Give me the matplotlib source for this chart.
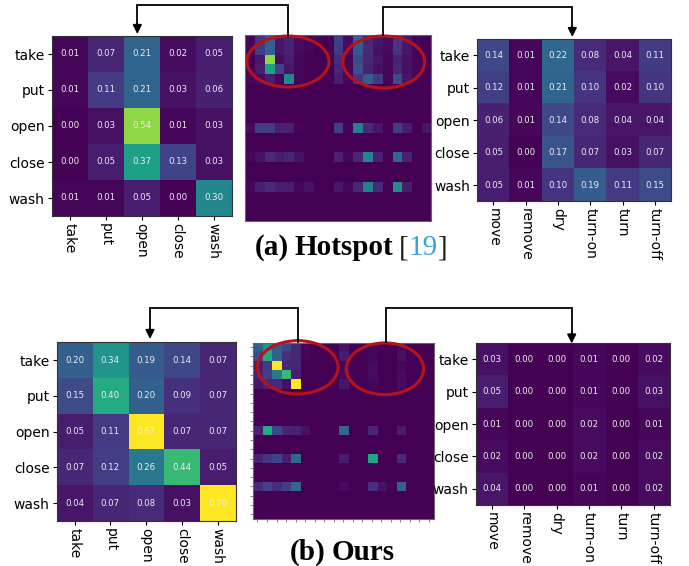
import numpy as np
import matplotlib
matplotlib.use("Agg")
import matplotlib.pyplot as plt
from matplotlib.patches import Ellipse

W, H = 689, 566
VMAX = 0.65

verbs = ["take", "put", "open", "close", "wash"]
other_verbs = ["move", "remove", "dry", "turn-on", "turn", "turn-off"]

hot_left = [[0.01, 0.07, 0.21, 0.02, 0.05],
            [0.01, 0.11, 0.21, 0.03, 0.06],
            [0.00, 0.03, 0.54, 0.01, 0.03],
            [0.00, 0.05, 0.37, 0.13, 0.03],
            [0.01, 0.01, 0.05, 0.00, 0.30]]
hot_right = [[0.14, 0.01, 0.22, 0.08, 0.04, 0.11],
             [0.12, 0.01, 0.21, 0.10, 0.02, 0.10],
             [0.06, 0.01, 0.14, 0.08, 0.04, 0.04],
             [0.05, 0.00, 0.17, 0.07, 0.03, 0.07],
             [0.05, 0.01, 0.10, 0.19, 0.11, 0.15]]
ours_left = [[0.20, 0.34, 0.19, 0.14, 0.07],
             [0.15, 0.40, 0.20, 0.09, 0.07],
             [0.05, 0.11, 0.67, 0.07, 0.07],
             [0.07, 0.12, 0.26, 0.44, 0.05],
             [0.04, 0.07, 0.08, 0.03, 0.70]]
ours_right = [[0.03, 0.00, 0.00, 0.01, 0.00, 0.02],
              [0.05, 0.00, 0.00, 0.01, 0.00, 0.03],
              [0.01, 0.00, 0.00, 0.02, 0.00, 0.01],
              [0.02, 0.00, 0.00, 0.02, 0.00, 0.02],
              [0.04, 0.00, 0.00, 0.01, 0.00, 0.02]]

Z = [0.0] * 19
hot_full = [
    [0.01, 0.10, 0.20, 0.04, 0.06, 0.02, 0.01, 0.01, 0.00, 0.12, 0.02, 0.20, 0.07, 0.04, 0.02, 0.10, 0.04, 0.01, 0.00],
    [0.01, 0.12, 0.20, 0.04, 0.06, 0.02, 0.01, 0.00, 0.00, 0.11, 0.02, 0.18, 0.08, 0.03, 0.02, 0.10, 0.04, 0.01, 0.00],
    [0.00, 0.04, 0.54, 0.02, 0.05, 0.01, 0.00, 0.00, 0.00, 0.08, 0.01, 0.14, 0.07, 0.04, 0.01, 0.06, 0.03, 0.01, 0.00],
    [0.00, 0.05, 0.37, 0.13, 0.04, 0.01, 0.00, 0.00, 0.00, 0.07, 0.01, 0.16, 0.06, 0.03, 0.01, 0.07, 0.03, 0.01, 0.00],
    [0.01, 0.02, 0.05, 0.01, 0.30, 0.01, 0.00, 0.00, 0.00, 0.05, 0.01, 0.10, 0.19, 0.11, 0.01, 0.15, 0.04, 0.01, 0.00],
    Z, Z, Z, Z,
    [0.02, 0.12, 0.12, 0.06, 0.06, 0.01, 0.00, 0.00, 0.00, 0.12, 0.01, 0.28, 0.08, 0.04, 0.00, 0.12, 0.05, 0.00, 0.04],
    Z, Z,
    [0.01, 0.03, 0.08, 0.05, 0.07, 0.03, 0.00, 0.00, 0.00, 0.06, 0.01, 0.07, 0.30, 0.06, 0.00, 0.22, 0.06, 0.00, 0.00],
    Z, Z,
    [0.01, 0.06, 0.08, 0.05, 0.05, 0.01, 0.03, 0.00, 0.00, 0.04, 0.01, 0.07, 0.28, 0.08, 0.00, 0.32, 0.05, 0.00, 0.00],
    Z, Z, Z,
]
ours_full = [
    [0.20, 0.34, 0.19, 0.14, 0.07, 0.01, 0.00, 0.00, 0.00, 0.03, 0.00, 0.00, 0.01, 0.00, 0.00, 0.02, 0.00, 0.00, 0.00],
    [0.15, 0.40, 0.20, 0.09, 0.07, 0.01, 0.00, 0.00, 0.00, 0.05, 0.00, 0.00, 0.01, 0.00, 0.00, 0.03, 0.00, 0.00, 0.00],
    [0.05, 0.11, 0.67, 0.07, 0.07, 0.00, 0.00, 0.00, 0.00, 0.01, 0.00, 0.00, 0.02, 0.00, 0.00, 0.01, 0.00, 0.00, 0.00],
    [0.07, 0.12, 0.26, 0.44, 0.05, 0.00, 0.00, 0.00, 0.00, 0.02, 0.00, 0.00, 0.02, 0.00, 0.00, 0.02, 0.00, 0.00, 0.00],
    [0.04, 0.07, 0.08, 0.03, 0.70, 0.00, 0.00, 0.00, 0.00, 0.04, 0.00, 0.00, 0.01, 0.00, 0.00, 0.02, 0.00, 0.00, 0.00],
    Z, Z, Z, Z,
    [0.06, 0.40, 0.14, 0.07, 0.06, 0.03, 0.00, 0.00, 0.00, 0.22, 0.00, 0.00, 0.07, 0.00, 0.00, 0.05, 0.00, 0.00, 0.00],
    Z, Z,
    [0.06, 0.10, 0.13, 0.05, 0.22, 0.00, 0.00, 0.00, 0.00, 0.05, 0.00, 0.00, 0.38, 0.00, 0.00, 0.08, 0.00, 0.00, 0.00],
    Z, Z,
    [0.08, 0.13, 0.08, 0.12, 0.22, 0.00, 0.00, 0.00, 0.00, 0.02, 0.00, 0.00, 0.09, 0.03, 0.00, 0.20, 0.00, 0.00, 0.00],
    Z, Z, Z,
]

fig = plt.figure(figsize=(W / 100, H / 100), dpi=100)


def rect(x, y, w, h):
    return [x / W, 1 - (y + h) / H, w / W, h / H]


def small_heat(r, data, xl, yl):
    ax = fig.add_axes(rect(*r))
    d = np.array(data)
    ax.imshow(d, cmap="viridis", vmin=0, vmax=VMAX, aspect="auto")
    for i in range(d.shape[0]):
        for j in range(d.shape[1]):
            ax.text(j, i, f"{d[i, j]:.2f}", ha="center", va="center",
                    color="#eeeeee", fontsize=6.2)
    ax.set_xticks(range(len(xl)))
    ax.set_xticklabels(xl, rotation=270, fontsize=10)
    ax.set_yticks(range(len(yl)))
    ax.set_yticklabels(yl, fontsize=10)
    ax.tick_params(length=3, pad=2)
    for s in ax.spines.values():
        s.set_linewidth(0.8)
        s.set_color("#333333")
    return ax


def big_heat(r, data, ticks):
    ax = fig.add_axes(rect(*r))
    ax.imshow(np.array(data), cmap="viridis", vmin=0, vmax=VMAX, aspect="auto")
    if ticks:
        ax.set_xticks(range(19))
        ax.set_yticks(range(19))
        ax.set_xticklabels([])
        ax.set_yticklabels([])
        ax.tick_params(length=2, width=0.5, color="#555555")
    else:
        ax.set_xticks([])
        ax.set_yticks([])
    for s in ax.spines.values():
        s.set_linewidth(0.8)
        s.set_color("#666666")
    return ax


small_heat((51.7, 36, 180, 180), hot_left, verbs, verbs)
big_heat((244.7, 35, 186.6, 186), hot_full, False)
small_heat((477.3, 39.3, 193.7, 162), hot_right, other_verbs, verbs)

small_heat((56.7, 342.3, 179, 178.7), ours_left, verbs, verbs)
big_heat((252.7, 342.5, 181, 176.5), ours_full, True)
small_heat((475.7, 343.3, 194.3, 161.7), ours_right, other_verbs, verbs)

# overlay in pixel coordinates
ov = fig.add_axes([0, 0, 1, 1], zorder=10)
ov.set_xlim(0, W)
ov.set_ylim(H, 0)
ov.axis("off")
ov.patch.set_alpha(0)

red = "#b5121b"
for (cx, cy, ew, eh) in [(288, 61.5, 82, 51), (383.8, 62, 81.7, 52),
                         (297.7, 367.3, 80.7, 53.3), (385, 368.8, 77.3, 51.7)]:
    ov.add_patch(Ellipse((cx, cy), ew, eh, fill=False, edgecolor=red, lw=2.2))


def bracket(x_start, y_start, y_top, x_end, y_tip):
    ov.plot([x_start, x_start, x_end, x_end], [y_start, y_top, y_top, y_tip - 9],
            color="k", lw=1.3, solid_joinstyle="miter", solid_capstyle="butt")
    ov.annotate("", xy=(x_end, y_tip), xytext=(x_end, y_tip - 10),
                arrowprops=dict(arrowstyle="-|>", color="k", lw=1.3,
                                mutation_scale=13, shrinkA=0, shrinkB=0))


bracket(288.3, 37, 4.5, 137.3, 34)
bracket(383.3, 36, 7.3, 572.3, 37)
bracket(298.3, 343, 308.3, 150, 339)
bracket(386, 343, 308.3, 571.7, 343.5)

renderer = fig.canvas.get_renderer()


def caption(x0, yb, pieces):
    x = x0
    for txt, wt, col, gap in pieces:
        t = ov.text(x, yb, txt, fontsize=21, fontweight=wt, color=col,
                    family="Liberation Serif", ha="left", va="baseline")
        bb = t.get_window_extent(renderer)
        x += bb.width + gap


caption(255, 255, [("(a)", "bold", "k", 5), ("Hotspot", "bold", "k", 6),
                   ("[", "normal", "#222222", 0), ("19", "normal", "#3f9fe0", 0),
                   ("]", "normal", "#222222", 0)])
caption(290, 560, [("(b)", "bold", "k", 6), ("Ours", "bold", "k", 0)])

fig.savefig("out.png", dpi=100)
